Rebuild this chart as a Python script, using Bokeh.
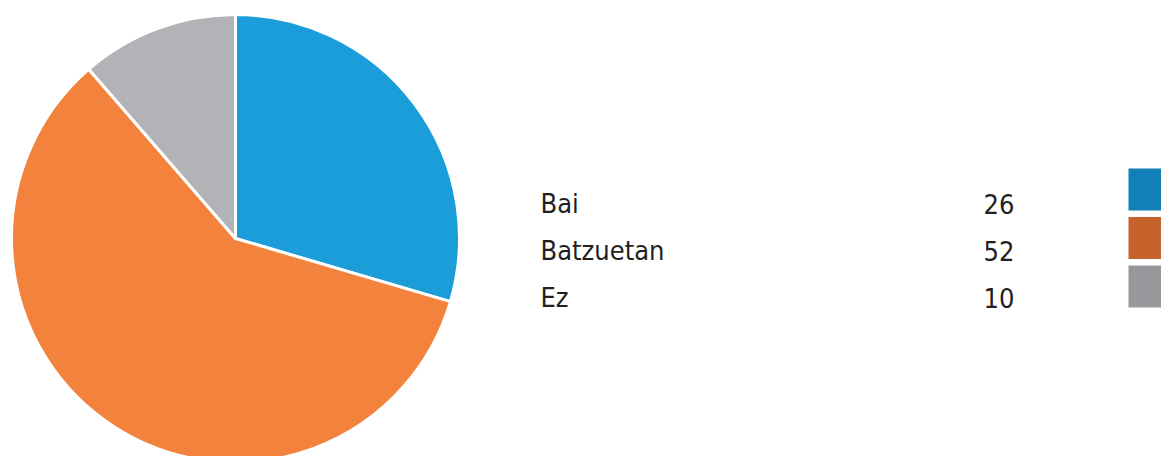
from bokeh.plotting import figure
from bokeh.models import Range1d, ColumnDataSource
from bokeh.core.properties import value
from bokeh.embed import file_html
from bokeh.resources import INLINE
import math

categories = ["Bai", "Batzuetan", "Ez"]
counts = [26, 52, 10]
value_labels = ["26", "52", "10"]
pie_colors = ["#1a9dd8", "#f3823d", "#b2b3b7"]
key_colors = ["#1180b8", "#c8622c", "#97989b"]

W, H = 1161, 456
p = figure(width=W, height=H, output_backend="svg", toolbar_location=None,
           x_range=Range1d(0, W), y_range=Range1d(0, H), min_border=0)
p.axis.visible = False
p.grid.visible = False
p.outline_line_color = None
p.background_fill_color = "white"

total = sum(counts)
starts, ends = [], []
cum = 0.0
for c in counts:
    a0 = math.pi / 2 - 2 * math.pi * (cum + c) / total
    a1 = math.pi / 2 - 2 * math.pi * cum / total
    starts.append(a0)
    ends.append(a1)
    cum += c

cx, cy, r = 235, H - 238, 224
src = ColumnDataSource(dict(start=starts, end=ends, color=pie_colors))
p.wedge(x=cx, y=cy, radius=r, start_angle="start", end_angle="end",
        fill_color="color", line_color="white", line_width=3, source=src)

font = value("'DejaVu Sans Condensed', 'Liberation Sans Narrow', Roboto")
row_base = [H - 203, H - 250, H - 297]
sq_y = [H - 189, H - 237.5, H - 286]
p.text(x=[540] * 3, y=row_base, text=categories, text_font=font,
       text_font_size="27px", text_color="#231f20", text_baseline="alphabetic", text_align="left")
p.text(x=[1014] * 3, y=row_base, text=value_labels, text_font=font,
       text_font_size="27px", text_color="#231f20", text_baseline="alphabetic", text_align="right")
p.rect(x=[1149] * 3, y=sq_y, width=42, height=42, fill_color=key_colors, line_color=None)

open("out.html", "w").write(file_html(p, INLINE))
